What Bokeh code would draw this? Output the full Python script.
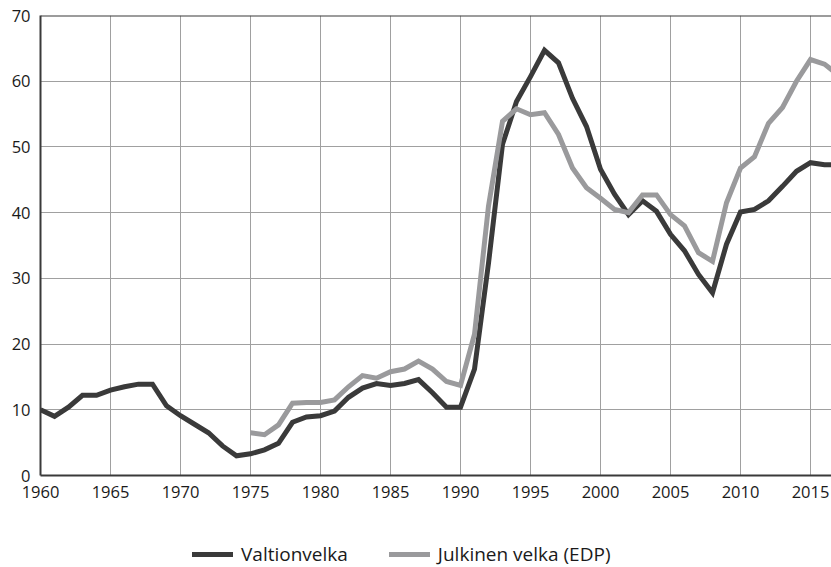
from bokeh.plotting import figure
from bokeh.layouts import column
from bokeh.models import Range1d, Legend, LegendItem, FixedTicker, Span
from bokeh.embed import file_html
from bokeh.resources import INLINE

years_v = list(range(1960, 2018))
valtionvelka = [10.0, 9.0, 10.4, 12.2, 12.2, 13.0, 13.5, 13.9, 13.9, 10.6,
                9.1, 7.8, 6.5, 4.5, 3.0, 3.3, 3.9, 4.9, 8.1, 8.9,
                9.1, 9.8, 11.9, 13.3, 14.0, 13.7, 14.0, 14.6, 12.6, 10.4,
                10.4, 16.2, 32.3, 50.4, 56.9, 60.7, 64.7, 62.8, 57.4, 53.1,
                46.6, 42.8, 39.7, 41.8, 40.2, 36.7, 34.2, 30.6, 27.8, 35.2,
                40.1, 40.5, 41.8, 44.0, 46.3, 47.6, 47.3, 47.3]

years_j = list(range(1975, 2018))
julkinen = [6.5, 6.2, 7.7, 11.0, 11.1, 11.1, 11.5, 13.5, 15.2, 14.8,
            15.8, 16.2, 17.4, 16.2, 14.3, 13.7, 21.5, 41.0, 53.9, 55.8,
            54.9, 55.2, 51.9, 46.8, 43.8, 42.2, 40.5, 40.0, 42.7, 42.7,
            39.7, 38.0, 33.9, 32.6, 41.5, 46.8, 48.5, 53.6, 56.0, 60.0,
            63.3, 62.6, 60.9]

series_names = ["Valtionvelka", "Julkinen velka (EDP)"]
x_ticks = [1960, 1965, 1970, 1975, 1980, 1985, 1990, 1995, 2000, 2005, 2010, 2015]
y_ticks = [0, 10, 20, 30, 40, 50, 60, 70]

DARK = "#3a3a3a"
GRAY = "#9a9a9c"
FONT = "Open Sans"

p = figure(width=831, height=515, output_backend="svg", toolbar_location=None,
           x_range=Range1d(1960, 2016.5), y_range=Range1d(0, 70),
           min_border_left=40, min_border_right=0, min_border_top=15, min_border_bottom=40)
p.outline_line_color = None
p.background_fill_color = "white"
p.border_fill_color = "white"

p.xgrid.grid_line_color = "#a0a0a0"
p.ygrid.grid_line_color = "#a0a0a0"

for ax in (p.xaxis[0], p.yaxis[0]):
    ax.axis_line_color = DARK
    ax.axis_line_width = 2
    ax.major_tick_line_color = None
    ax.minor_tick_line_color = None
    ax.major_tick_out = 0
    ax.major_tick_in = 0
    ax.major_label_text_font = FONT
    ax.major_label_text_font_size = "16.5px"
    ax.major_label_text_color = "#1a1a1a"
    ax.major_label_standoff = 10

p.xaxis.ticker = FixedTicker(ticks=x_ticks)
p.yaxis.ticker = FixedTicker(ticks=y_ticks)

p.add_layout(Span(location=70, dimension="width", line_color=DARK, line_width=2))

p.line(years_v, valtionvelka, line_color=DARK, line_width=5, line_join="miter")
p.line(years_j, julkinen, line_color=GRAY, line_width=5, line_join="miter")

# legend strip (its renderers sit outside the strip's visible range)
lg = figure(width=831, height=52, output_backend="svg", toolbar_location=None,
            x_range=Range1d(0, 1), y_range=Range1d(0, 1),
            min_border_left=0, min_border_right=0, min_border_top=0, min_border_bottom=0)
lg.axis.visible = False
lg.grid.visible = False
lg.outline_line_color = None
l1 = lg.line([5, 6], [5, 6], line_color=DARK, line_width=5, line_cap="round")
l2 = lg.line([5, 6], [5, 6], line_color=GRAY, line_width=5, line_cap="round")

legend = Legend(items=[LegendItem(label=series_names[0], renderers=[l1]),
                       LegendItem(label=series_names[1], renderers=[l2])],
                orientation="horizontal", location=(152, 0),
                glyph_width=41, glyph_height=24, label_standoff=8, spacing=41,
                padding=0, margin=0, border_line_color=None,
                background_fill_alpha=0,
                label_text_font=FONT, label_text_font_size="19px",
                label_text_color="#1a1a1a")
lg.add_layout(legend, "center")

layout = column(p, lg, spacing=0)
open("out.html", "w").write(file_html(layout, INLINE))
